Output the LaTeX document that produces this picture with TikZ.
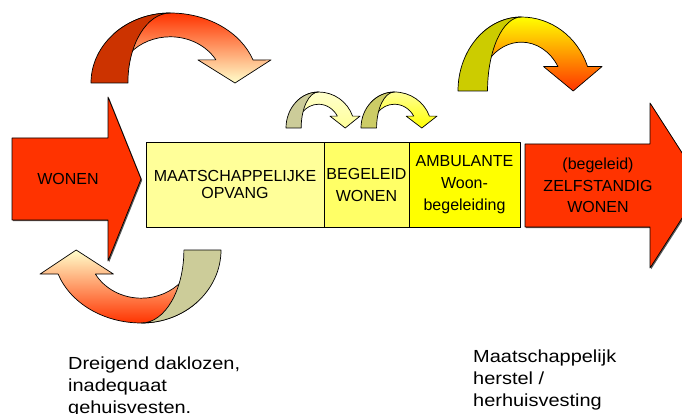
\documentclass[tikz,border=0pt]{standalone}
\usepackage{fontspec}
\setmainfont{Liberation Sans}
\newfontfamily\capfont{Liberation Sans}[FakeStretch=1.14]
\usetikzlibrary{positioning, shadows}

\definecolor{wonenred}{HTML}{FF3300}
\definecolor{darkred}{HTML}{CC3300}
\definecolor{cream}{HTML}{FFFFCC}
\definecolor{paleyellow}{HTML}{FFFF99}
\definecolor{midyellow}{HTML}{FFFF66}
\definecolor{fullyellow}{HTML}{FFFF00}
\definecolor{olive}{HTML}{CCCC00}
\definecolor{khaki}{HTML}{CCCC99}
\definecolor{lightolive}{HTML}{CCCC66}

\tikzset{
  outline/.style={draw=black, line width=0.7pt, line join=round},
  shadowed/.style={drop shadow={shadow xshift=1.2pt, shadow yshift=-1.2pt, fill=black!65, opacity=1}},
  bigarrow/.style={outline, shadowed, fill=wonenred},
  stage/.style={outline, shadowed, minimum height=85pt, inner sep=0pt, outer sep=0pt, align=center, font=\fontsize{16}{22}\selectfont},
  stagetext/.style={align=center, inner sep=0pt, font=\fontsize{16}{21.5}\selectfont},
  caption/.style={align=left, anchor=north west, inner sep=0pt, font=\capfont\fontsize{17.5}{22}\selectfont},
}

% bent arrow: left leg at (#1,#2), width #3, height #4, back colour #5, shading #6 to #7
\newcommand{\bentarrow}[7]{%
  \begin{scope}[shift={(#1pt,-#2pt)}, x={(#3pt,0pt)}, y={(0pt,#4pt)}]
    \path[outline, top color=#6, bottom color=#7]
      (0.129,0.707) arc[start angle=135, end angle=90, x radius=0.44, y radius=1]
      arc[start angle=90, end angle=19.27, x radius=0.487, y radius=1]
      -- (1,0.33) -- (0.8,0) -- (0.594,0.33) -- (0.694,0.33)
      arc[start angle=30, end angle=140, x radius=0.293, y radius=0.66]
      -- cycle;
    \path[outline, fill=#5] (0,0)
      arc[start angle=180, end angle=90, x radius=0.44, y radius=1]
      arc[start angle=90, end angle=180, x radius=0.235, y radius=1]
      -- cycle;
  \end{scope}}

\begin{document}
\begin{tikzpicture}[x=1pt,y=-1pt]
  \useasboundingbox (0,0) rectangle (682,414);

  % curved arrows
  \bentarrow{91}{83}{180}{70}{darkred}{wonenred}{cream}
  \bentarrow{458}{91}{144}{74}{olive}{fullyellow}{wonenred}
  \bentarrow{286}{128}{74}{36}{khaki}{cream}{paleyellow}
  \bentarrow{361}{128}{76}{36}{lightolive}{paleyellow}{fullyellow}
  \bentarrow{221}{250}{-181}{-73}{khaki}{cream}{wonenred}

  % wonen and zelfstandig wonen
  \filldraw[bigarrow] (12,138) -- (108,138) -- (108,97) -- (141,179) -- (108,261) -- (108,220) -- (12,220) -- cycle;
  \node[stagetext] (wonen) at (68,179) {WONEN};
  \filldraw[bigarrow] (525,144) -- (650,144) -- (650,103) -- (703,185.5) -- (650,268) -- (650,227) -- (525,227) -- cycle;
  \node[stagetext] (zelf) at (598,185.5) {(begeleid)\\ZELFSTANDIG\\WONEN};

  % stages
  \node[stage, fill=paleyellow, minimum width=178pt, anchor=north west, font=\fontsize{16}{17}\selectfont] (opvang) at (146,142) {MAATSCHAPPELIJKE\\OPVANG};
  \node[stage, fill=midyellow, minimum width=85pt, right=0pt of opvang] (begeleid) {BEGELEID\\WONEN};
  \node[stage, fill=fullyellow, minimum width=111pt, right=0pt of begeleid] (ambulant) {AMBULANTE\\Woon-\\begeleiding};

  % captions
  \node[caption] (dakloos) at (68,356.3) {Dreigend daklozen,\\inadequaat\\gehuisvesten.};
  \node[caption] (herstel) at (473,349.8) {Maatschappelijk\\herstel /\\herhuisvesting};
\end{tikzpicture}
\end{document}
